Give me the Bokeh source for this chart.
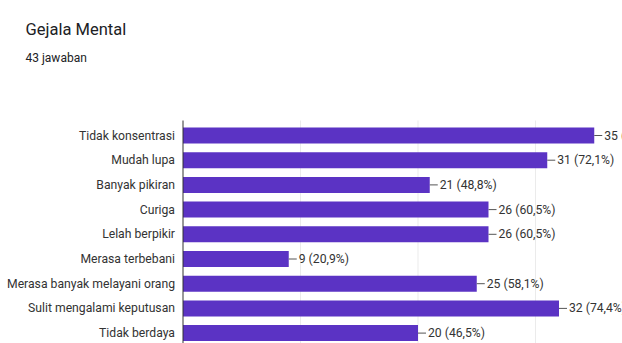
from bokeh.plotting import figure
from bokeh.models import Range1d, Label
from bokeh.core.properties import value
from bokeh.embed import file_html
from bokeh.resources import INLINE

title_text = "Gejala Mental"
subtitle_text = "43 jawaban"
total = 43
categories = ["Tidak konsentrasi", "Mudah lupa", "Banyak pikiran", "Curiga",
              "Lelah berpikir", "Merasa terbebani", "Merasa banyak melayani orang",
              "Sulit mengalami keputusan", "Tidak berdaya"]
values = [35, 31, 21, 26, 26, 9, 25, 32, 20]
grid_ticks = [10, 20, 30]

FONT = "Roboto"
BAR = "#5b33c4"
TXT = "#333333"

# layout constants (figure pixels)
W, H = 622, 343
AXIS_PX = 182.5        # x pixel of the value axis (zero line)
XSCALE = 11.75         # px per unit
ROW0_PX = 135          # centre of first row
ROW_PX = 24.7          # row spacing
TOP_PX = 120           # top of the plotting area (axis line start)

idx = list(range(len(categories)))
labels = [f"{v} ({v / total * 100:.1f}%)".replace(".", ",") for v in values]

x_start = -AXIS_PX / XSCALE
x_end = (W - AXIS_PX) / XSCALE
y_top = -ROW0_PX / ROW_PX
y_bottom = (H - ROW0_PX) / ROW_PX
y_axis_top = (TOP_PX - ROW0_PX) / ROW_PX

p = figure(width=W, height=H, output_backend="svg", toolbar_location=None,
           x_range=Range1d(x_start, x_end), y_range=Range1d(y_bottom, y_top),
           min_border=0, min_border_left=0, min_border_right=0,
           min_border_top=0, min_border_bottom=0)
p.outline_line_color = None
p.background_fill_color = "white"
p.border_fill_color = "white"
p.xaxis.visible = False
p.yaxis.visible = False
p.grid.visible = False

# faint vertical grid lines
p.segment(x0=grid_ticks, x1=grid_ticks, y0=y_axis_top, y1=y_bottom,
          line_color="#ebebeb", line_width=1)

# bars
p.hbar(y=idx, left=0, right=values, height=16 / ROW_PX, fill_color=BAR, line_color=None)

# axis line
p.segment(x0=[0], x1=[0], y0=[y_axis_top], y1=[y_bottom], line_color="#333333", line_width=1)

# category labels
p.text(x=0, y=idx, text=categories, x_offset=-8, text_align="right", text_baseline="middle",
       text_font=value(FONT), text_font_size="12.2px", text_color=TXT)

# leader lines and value labels
leader_end = [v + 8 / XSCALE for v in values]
p.segment(x0=values, x1=leader_end, y0=idx, y1=idx, line_color="#555555", line_width=1)
p.text(x=values, y=idx, text=labels, x_offset=10, text_baseline="middle", text_align="left",
       text_font=value(FONT), text_font_size="12.2px", text_color=TXT)

# titles
p.add_layout(Label(x=25, y=H - 29, x_units="screen", y_units="screen", text=title_text,
                   text_font=FONT, text_font_size="16.5px", text_color="#202124",
                   text_baseline="alphabetic"))
p.add_layout(Label(x=25, y=H - 57, x_units="screen", y_units="screen", text=subtitle_text,
                   text_font=FONT, text_font_size="12px", text_color="#202124",
                   text_baseline="alphabetic"))

open("out.html", "w").write(file_html(p, INLINE))
